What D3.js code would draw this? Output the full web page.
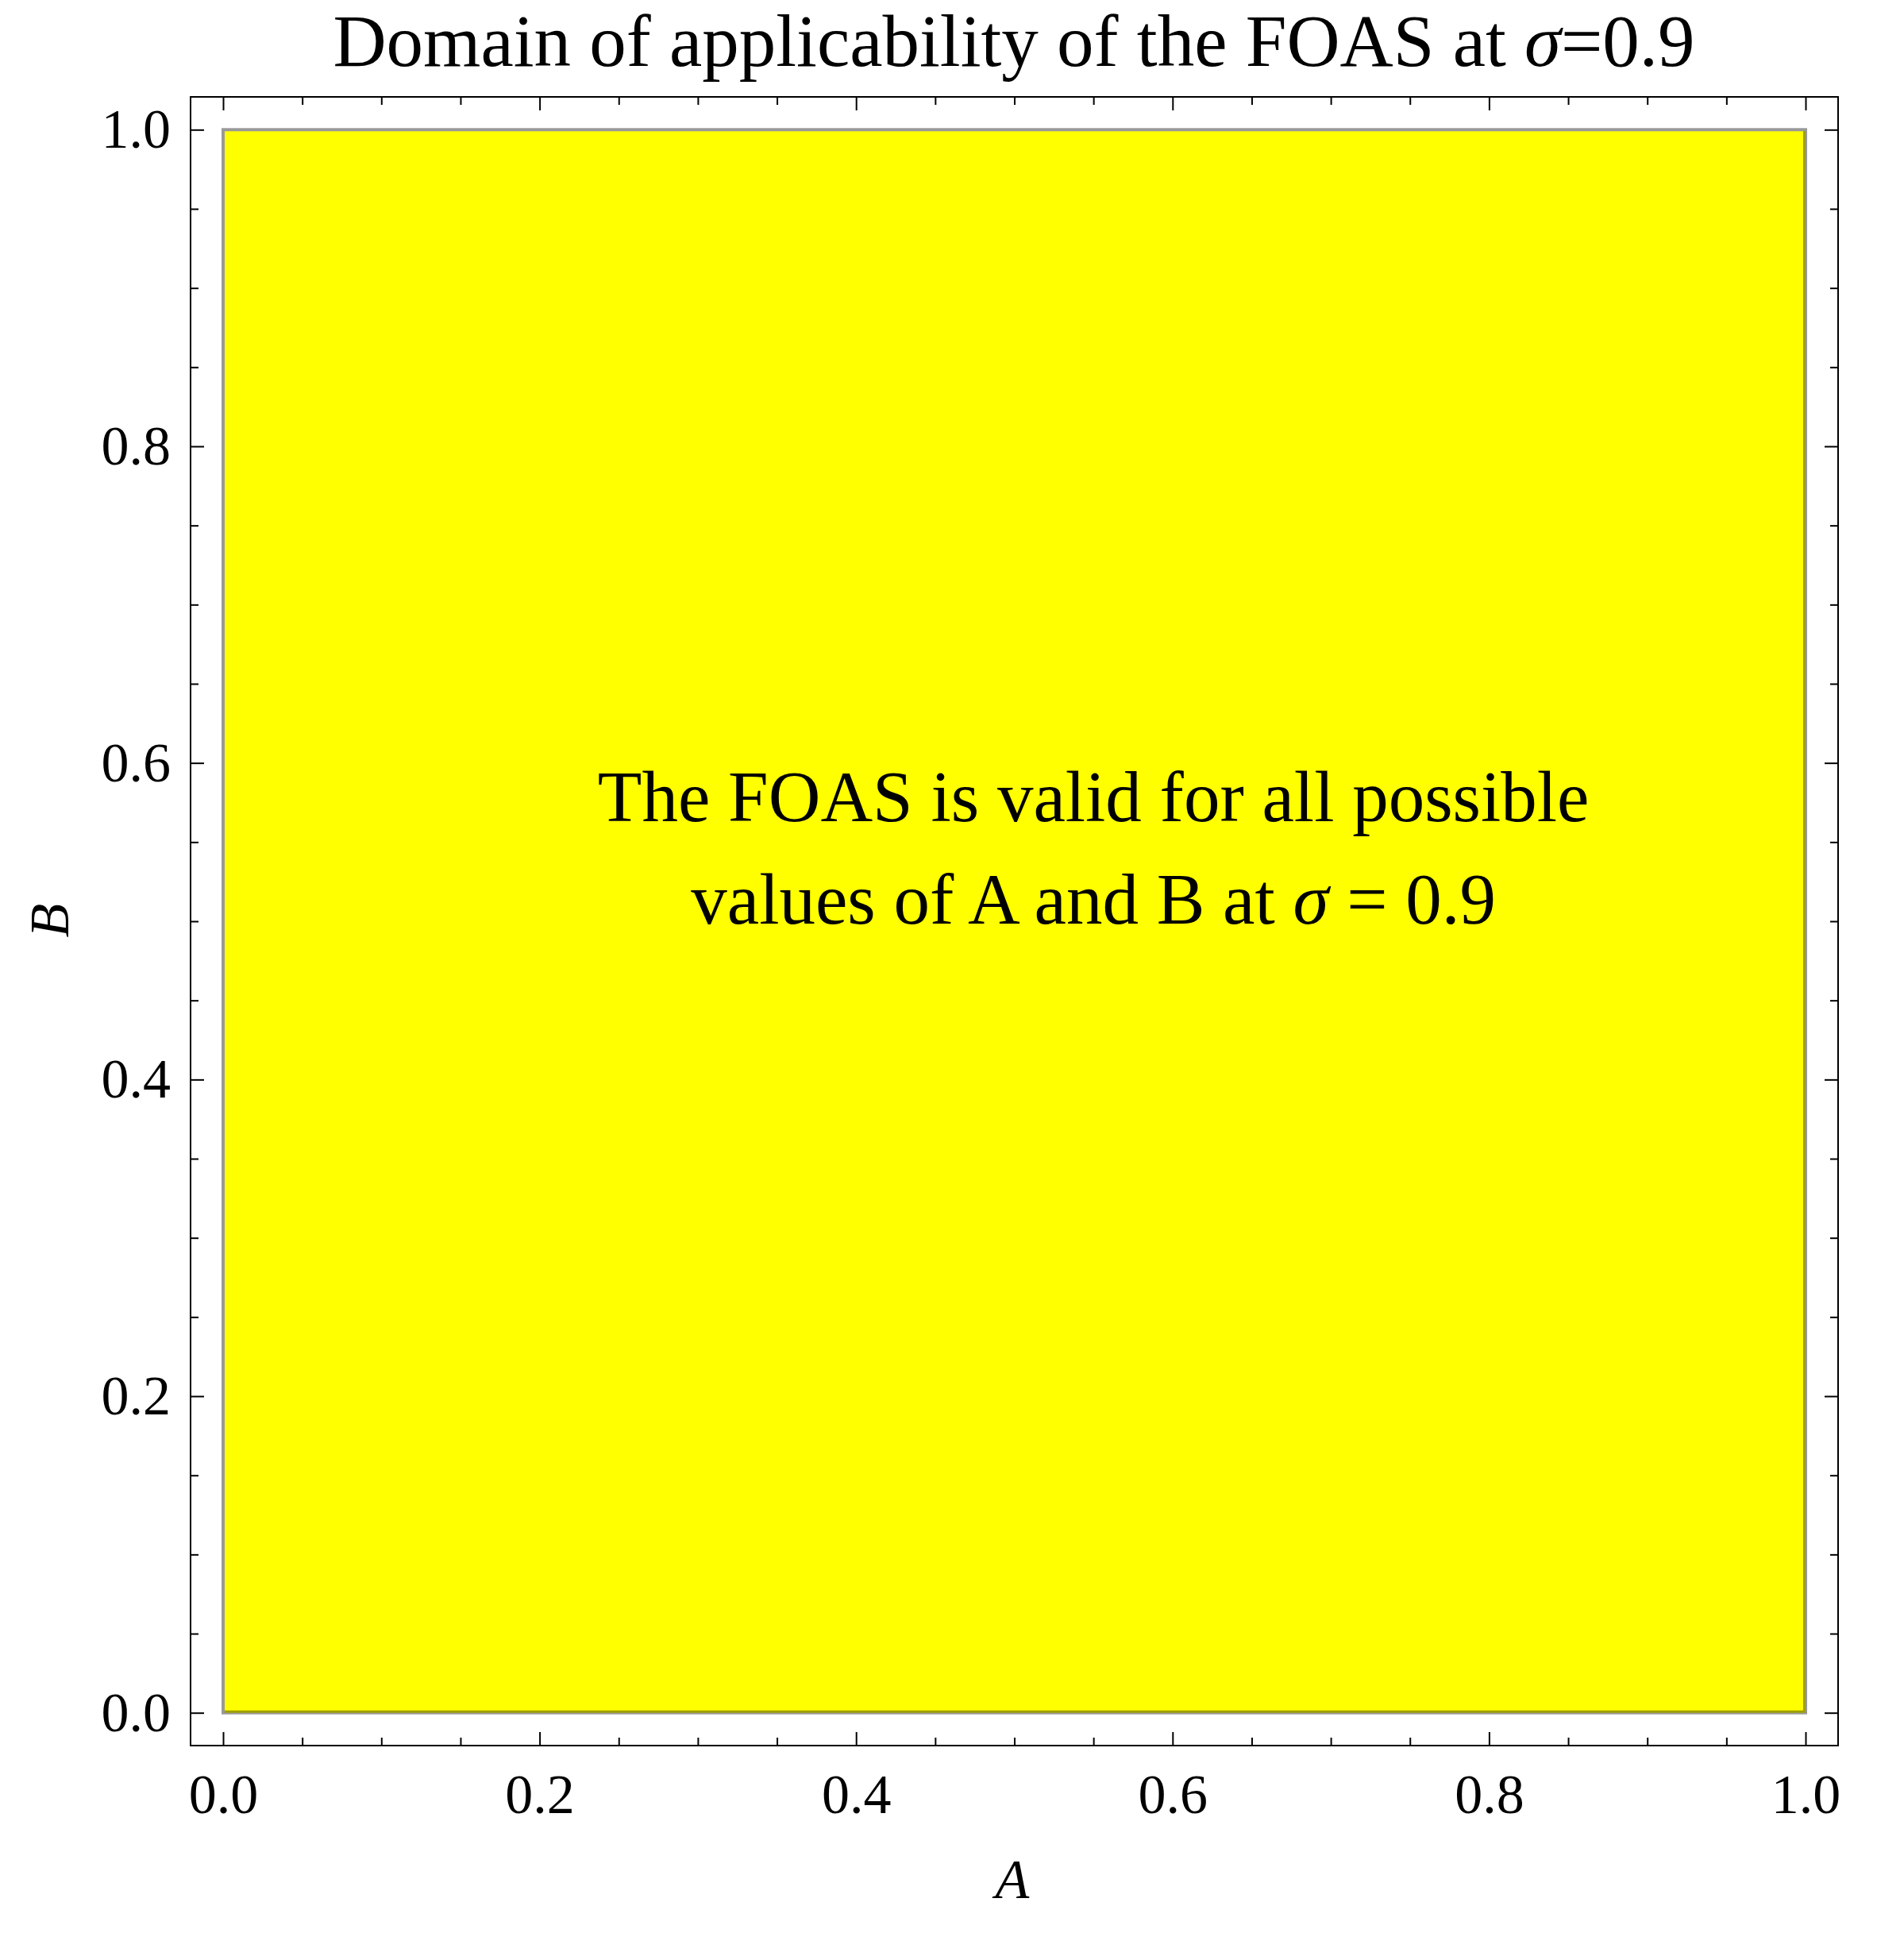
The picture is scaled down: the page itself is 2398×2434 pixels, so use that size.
<!doctype html><html><head><meta charset="utf-8"></head><body style="margin:0;background:#fff"><script src='https://d3js.org/d3.v7.min.js'></script>

<style>
	svg text {
		fill: black;
		font-family: "Liberation Serif", "Times New Roman", serif;
	}
	.tick line { stroke: black; stroke-width: 2; }
</style>

<script>
  // data
  var aRange = [0, 1];          // A values covered by the valid region
  var bRange = [0, 1];          // B values covered by the valid region
  var majorTicks = [0, 0.2, 0.4, 0.6, 0.8, 1.0];
  var minorTicks = [0.05, 0.1, 0.15, 0.25, 0.3, 0.35, 0.45, 0.5, 0.55, 0.65, 0.7, 0.75, 0.85, 0.9, 0.95];
  var tickLabels = ["0.0", "0.2", "0.4", "0.6", "0.8", "1.0"];
  var sigma = "0.9";
  var notePos = [0.55, 0.563];  // where the note sits, in A,B units

  var W = 2398, H = 2434;
  var frame = {left: 240, right: 2315, top: 122, bottom: 2198};

  var x = d3.scaleLinear().domain([0, 1]).range([281, 2274]);
  var y = d3.scaleLinear().domain([0, 1]).range([2156.7, 163.3]);

  var svg = d3.select("body").append("svg")
    .attr("width", W)
    .attr("height", H);

  // the region where the FOAS holds
  svg.append("rect")
    .attr("x", x(aRange[0]))
    .attr("y", y(bRange[1]))
    .attr("width", x(aRange[1]) - x(aRange[0]))
    .attr("height", y(bRange[0]) - y(bRange[1]))
    .attr("fill", "#ffff00")
    .attr("stroke", "#999999")
    .attr("stroke-width", 4);

  // darker edge on the right and bottom
  svg.append("path")
    .attr("d", d3.line()([
      [x(aRange[1]) - 1.5, y(bRange[1]) + 2],
      [x(aRange[1]) - 1.5, y(bRange[0]) - 1.5],
      [x(aRange[0]) + 2, y(bRange[0]) - 1.5]
    ]))
    .attr("fill", "none")
    .attr("stroke", "#a0a000")
    .attr("stroke-width", 3);

  // frame
  svg.append("rect")
    .attr("x", frame.left)
    .attr("y", frame.top)
    .attr("width", frame.right - frame.left)
    .attr("height", frame.bottom - frame.top)
    .attr("fill", "none")
    .attr("stroke", "black")
    .attr("stroke-width", 2);

  function addAxis(axisFn, scale, transform, labels) {
    var major = svg.append("g")
      .attr("transform", transform)
      .call(axisFn(scale)
        .tickValues(majorTicks)
        .tickSize(-17)
        .tickPadding(labels ? (axisFn === d3.axisBottom ? 35 : 25) : 0)
        .tickFormat(function(d, i) { return labels ? tickLabels[i] : ""; }));
    major.select(".domain").remove();
    major.selectAll("text").style("font-size", "70px").attr("font-family", null);

    var minor = svg.append("g")
      .attr("transform", transform)
      .call(axisFn(scale)
        .tickValues(minorTicks)
        .tickSize(-10)
        .tickFormat(""));
    minor.select(".domain").remove();
  }

  addAxis(d3.axisBottom, x, "translate(0," + frame.bottom + ")", true);
  addAxis(d3.axisTop, x, "translate(0," + frame.top + ")", false);
  addAxis(d3.axisLeft, y, "translate(" + frame.left + ",0)", true);
  addAxis(d3.axisRight, y, "translate(" + frame.right + ",0)", false);

  // title
  var title = svg.append("text")
    .attr("x", 1277)
    .attr("y", 83)
    .attr("text-anchor", "middle")
    .style("font-size", "93px");
  title.append("tspan").text("Domain of applicability of the FOAS at ");
  title.append("tspan").style("font-style", "italic").text("σ");
  title.append("tspan").text("=" + sigma);

  // axis labels
  svg.append("text")
    .attr("x", 1275)
    .attr("y", 2390)
    .attr("text-anchor", "middle")
    .style("font-size", "70px")
    .style("font-style", "italic")
    .text("A");

  svg.append("text")
    .attr("transform", "translate(86,1159) rotate(-90)")
    .attr("text-anchor", "middle")
    .style("font-size", "70px")
    .style("font-style", "italic")
    .text("B");

  // note inside the region
  var note = svg.append("text")
    .attr("x", x(notePos[0]))
    .attr("y", y(notePos[1]))
    .attr("text-anchor", "middle")
    .style("font-size", "91px");
  note.append("tspan").attr("x", x(notePos[0])).text("The FOAS is valid for all possible");
  var l2 = note.append("tspan").attr("x", x(notePos[0])).attr("dy", 129);
  l2.append("tspan").text("values of A and B at ");
  l2.append("tspan").style("font-style", "italic").text("σ");
  l2.append("tspan").text(" = " + sigma);
</script></body></html>
